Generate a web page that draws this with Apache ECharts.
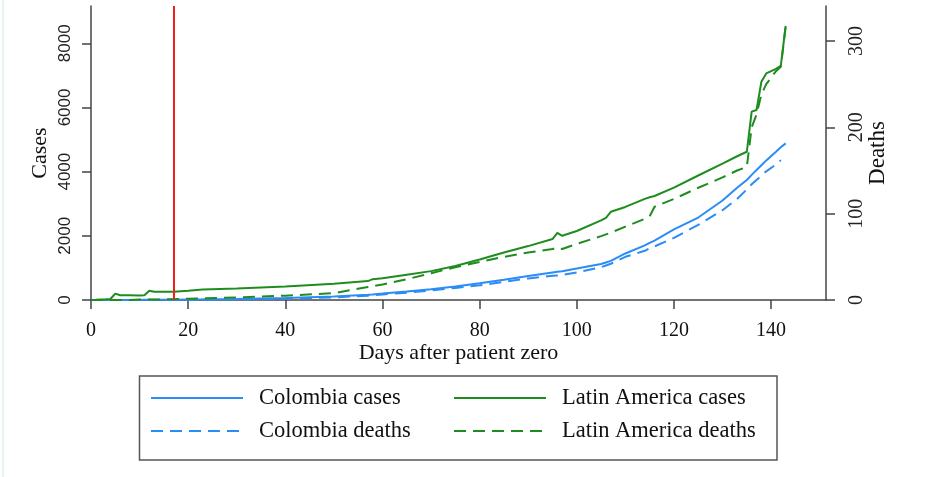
<!DOCTYPE html>
<html>
<head>
<meta charset="utf-8">
<script src="https://cdn.jsdelivr.net/npm/echarts@6/dist/echarts.min.js"></script>
<style>
html,body{margin:0;padding:0;background:#fff;}
#chart{width:925px;height:477px;}
</style>
</head>
<body>
<div id="chart"></div>
<script>
const days = [0,1,3,4,5,6,8,10,11,12,13,17,20,23,30,40,50,57,58,60,65,70,75,80,85,90,95,96,97,100,105,106,107,110,114,115,116,120,125,130,133,135,136,137,138,139,141,142,143];
const colombiaCases = [0,0,0,0,0,1,2,3,4,5,6,10,15,20,35,65,110,165,175,200,265,335,420,520,630,745,860,880,895,980,1120,1170,1220,1450,1700,1780,1850,2200,2570,3100,3500,3740,3900,4050,4200,4350,4620,4760,4880];
const colombiaDeaths = [0,0,0,0,0,0,0,0,0,0,0,0,0,0,0.5,1.5,3,5,5.5,6.5,8.5,11,14,17,21,25,28,28.5,29,32,38,40,42,50,57,60,62,72,87,104,117,128,134,139,144,149,157,162,null];
const latamCases = [0,5,20,30,200,150,150,140,150,290,260,260,290,330,360,420,510,590,650,680,790,900,1060,1260,1480,1680,1900,2090,2000,2150,2480,2560,2750,2900,3150,3200,3240,3500,3880,4250,4480,4620,5870,5920,6800,7060,7200,7300,8540];
const latamDeaths = [0,0,0,0,0,0,0,0.5,0.5,0.5,0.5,1,1.5,2,3,5,8,15,16,18,24,31,38,44,50,55,59,61,59,65,74,76,78,85,94,97,108,117,130,142,150,154,200,215,238,250,265,270,317];
const xTicks = [0,20,40,60,80,100,120,140];
const casesTicks = [0,2000,4000,6000,8000];
const deathsTicks = [0,100,200,300];
const eventDay = 17;

const BLUE = '#2a8cf5';
const GREEN = '#1f8c1f';
const DASH = [12, 7];
const SERIF = '"Liberation Serif", "Times New Roman", serif';
const SANS = '"Liberation Sans", Arial, sans-serif';
const pairs = arr => days.map((d, i) => [d, arr[i]]);
const plain = v => String(v);

const chart = echarts.init(document.getElementById('chart'), null, {renderer: 'canvas'});
const axisLine = {show: true, lineStyle: {color: '#444', width: 1.5}};
const axisTick = len => ({show: true, length: len, lineStyle: {color: '#444', width: 1.5}});
const legendBase = {
  orient: 'vertical', top: 381, itemWidth: 92, itemHeight: 14, itemGap: 9,
  itemStyle: {opacity: 0},
  textStyle: {fontFamily: SERIF, fontSize: 22.5, color: '#111', lineHeight: 24, padding: [0, 0, 0, 11]}
};

chart.setOption({
  animation: false,
  backgroundColor: '#fff',
  grid: {left: 91, right: 99, top: 6, bottom: 177, containLabel: false},
  xAxis: {
    type: 'value', min: 0, max: 151.3, interval: 20,
    name: 'Days after patient zero', nameLocation: 'middle', nameGap: 42, nameMoveOverlap: false,
    nameTextStyle: {fontFamily: SERIF, fontSize: 22, color: '#111'},
    axisLine: axisLine,
    axisTick: Object.assign(axisTick(9), {customValues: xTicks}),
    axisLabel: {customValues: xTicks, formatter: plain, fontFamily: SERIF, fontSize: 20, color: '#111', margin: 21},
    splitLine: {show: false}
  },
  yAxis: [{
    type: 'value', position: 'left', min: 0, max: 9162,
    name: 'Cases', nameLocation: 'middle', nameGap: 40, nameRotate: 90, nameMoveOverlap: false,
    nameTextStyle: {fontFamily: SERIF, fontSize: 22, color: '#111'},
    axisLine: axisLine,
    axisTick: Object.assign(axisTick(9), {customValues: casesTicks}),
    axisLabel: {customValues: casesTicks, formatter: plain, rotate: 90, fontFamily: SANS, fontSize: 17, color: '#222', margin: 17},
    splitLine: {show: false}
  }, {
    type: 'value', position: 'right', min: 0, max: 340.5,
    name: 'Deaths', nameLocation: 'middle', nameGap: 40, nameRotate: 90, nameMoveOverlap: false,
    nameTextStyle: {fontFamily: SERIF, fontSize: 23, color: '#111'},
    axisLine: axisLine,
    axisTick: Object.assign(axisTick(9), {customValues: deathsTicks}),
    axisLabel: {customValues: deathsTicks, formatter: plain, rotate: 90, fontFamily: SERIF, fontSize: 20, color: '#222', margin: 21},
    splitLine: {show: false}
  }],
  legend: [
    Object.assign({}, legendBase, {left: 145, data: ['Colombia cases', 'Colombia deaths']}),
    Object.assign({}, legendBase, {left: 448, data: ['Latin America cases', 'Latin America deaths']})
  ],
  graphic: [
    {type: 'rect', z: -1, shape: {x: 139.5, y: 376, width: 637.5, height: 84}, style: {fill: '#fff', stroke: '#555', lineWidth: 1.5}},
    {type: 'line', shape: {x1: 3, y1: 0, x2: 3, y2: 477}, style: {stroke: '#e4eef2', lineWidth: 1.5}}
  ],
  series: [{
    name: 'Colombia cases', type: 'line', yAxisIndex: 0, data: pairs(colombiaCases),
    symbol: 'none', lineStyle: {color: BLUE, width: 2}, itemStyle: {color: BLUE},
    markLine: {silent: true, symbol: 'none', label: {show: false}, lineStyle: {color: '#f21d1d', width: 2, type: 'solid'}, data: [{xAxis: eventDay}]}
  }, {
    name: 'Colombia deaths', type: 'line', yAxisIndex: 1, data: pairs(colombiaDeaths),
    symbol: 'none', lineStyle: {color: BLUE, width: 2, type: DASH}, itemStyle: {color: BLUE}
  }, {
    name: 'Latin America cases', type: 'line', yAxisIndex: 0, data: pairs(latamCases),
    symbol: 'none', lineStyle: {color: GREEN, width: 2}, itemStyle: {color: GREEN}
  }, {
    name: 'Latin America deaths', type: 'line', yAxisIndex: 1, data: pairs(latamDeaths),
    symbol: 'none', lineStyle: {color: GREEN, width: 2, type: DASH}, itemStyle: {color: GREEN}
  }]
});
</script>
</body>
</html>
